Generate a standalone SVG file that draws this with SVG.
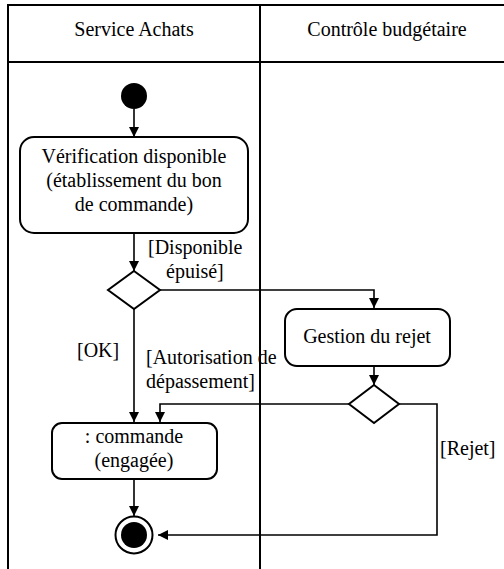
<svg xmlns="http://www.w3.org/2000/svg" width="504" height="569" viewBox="0 0 504 569">
<style>
svg g text.t, svg text.t{font-family:"Liberation Serif",serif !important;font-size:20px !important;fill:#000}
.c{text-anchor:middle}
.box{fill:#fff;stroke:#000;stroke-width:2}
.ln{fill:none;stroke:#000;stroke-width:2}
.e{fill:none;stroke:#000;stroke-width:1.6}
</style>
<defs>
<marker id="arr" markerWidth="10" markerHeight="10" viewBox="0 0 10 10" refX="10" refY="5" orient="auto" markerUnits="userSpaceOnUse">
<path d="M0,0 L10,5 L0,10 Z" fill="#000"/>
</marker>
</defs>
<rect width="504" height="569" fill="#fff"/>
<g id="swimlanes">
<path class="ln" d="M8,575 V5 H510 M7,62 H510 M260,5 V575"/>
<text class="t c" style="font-family:'Liberation Serif',serif !important" x="134" y="36">Service Achats</text>
<text class="t c" style="font-family:'Liberation Serif',serif !important" x="387" y="36">Contrôle budgétaire</text>
</g>
<g id="connectors">
<path class="e" marker-end="url(#arr)" d="M134,109 V137"/>
<path class="e" marker-end="url(#arr)" d="M134,233 V271"/>
<path class="e" marker-end="url(#arr)" d="M160,290 H374 V308"/>
<path class="e" marker-end="url(#arr)" d="M134,309 V422"/>
<path class="e" marker-end="url(#arr)" d="M374,366 V385"/>
<path class="e" marker-end="url(#arr)" d="M349,404 H160 V422"/>
<path class="e" marker-end="url(#arr)" d="M399,404 H437 V535 H158"/>
<path class="e" marker-end="url(#arr)" d="M134,479 V516"/>
<text class="t" style="font-family:'Liberation Serif',serif !important" x="148" y="254">[Disponible</text>
<text class="t" style="font-family:'Liberation Serif',serif !important" x="166" y="278">épuisé]</text>
<text class="t" style="font-family:'Liberation Serif',serif !important" x="77" y="357">[OK]</text>
<text class="t" style="font-family:'Liberation Serif',serif !important" x="146" y="364">[Autorisation de</text>
<text class="t" style="font-family:'Liberation Serif',serif !important" x="146" y="388">dépassement]</text>
<text class="t" style="font-family:'Liberation Serif',serif !important" x="440" y="455">[Rejet]</text>
</g>
<g id="start"><circle cx="134" cy="96" r="13" fill="#000"/></g>
<g id="verification">
<rect class="box" x="20" y="137" width="228" height="96" rx="14"/>
<text class="t c" style="font-family:'Liberation Serif',serif !important" x="134" y="163">Vérification disponible</text>
<text class="t c" style="font-family:'Liberation Serif',serif !important" x="134" y="187">(établissement du bon</text>
<text class="t c" style="font-family:'Liberation Serif',serif !important" x="134" y="211">de commande)</text>
</g>
<g id="decision1"><path class="box" d="M134,271 L160,290 L134,309 L108,290 Z"/></g>
<g id="gestion">
<rect class="box" x="285" y="309" width="165" height="57" rx="12"/>
<text class="t c" style="font-family:'Liberation Serif',serif !important" x="367" y="343">Gestion du rejet</text>
</g>
<g id="decision2"><path class="box" d="M374,385 L399,404 L374,423 L349,404 Z"/></g>
<g id="commande">
<rect class="box" x="52" y="423" width="165" height="56" rx="10"/>
<text class="t c" style="font-family:'Liberation Serif',serif !important" x="134" y="443">: commande</text>
<text class="t c" style="font-family:'Liberation Serif',serif !important" x="134" y="467">(engagée)</text>
</g>
<g id="end">
<circle cx="134" cy="535" r="18.5" fill="#fff" stroke="#000" stroke-width="2"/>
<circle cx="134" cy="535" r="13" fill="#000"/>
</g>
</svg>
